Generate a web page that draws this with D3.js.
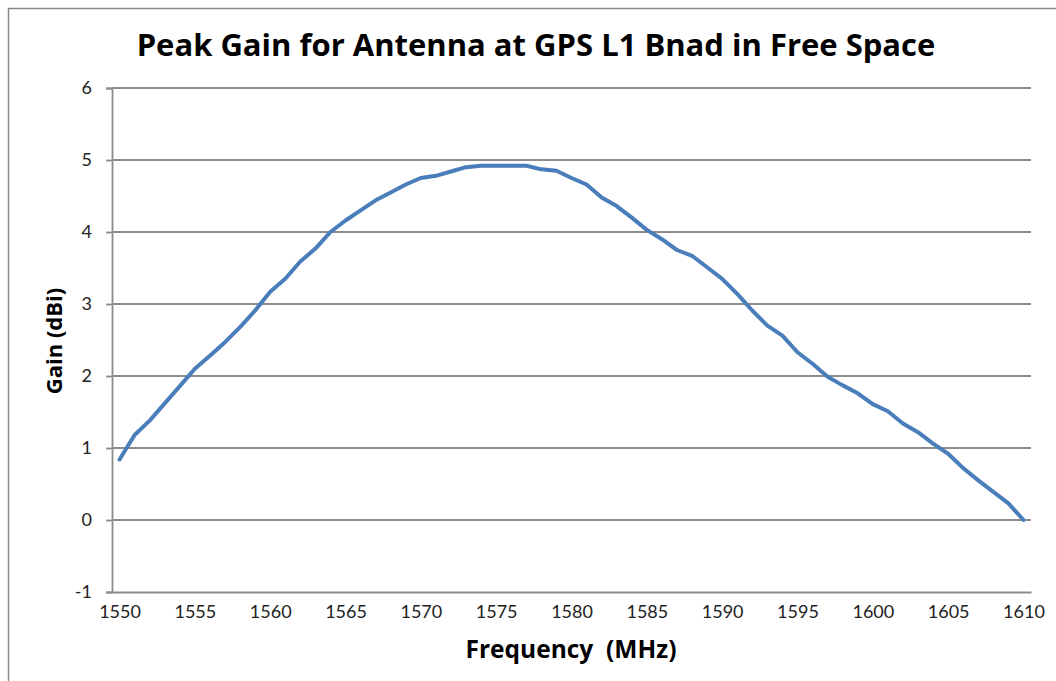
<!DOCTYPE html>
<html>
<head>
<meta charset="utf-8">
<script src="https://cdn.jsdelivr.net/npm/d3@7"></script>
<style>
  body { margin: 0; background: #fff; }
  text { font-family: Lato, "Open Sans", sans-serif; }
  .title { font-family: "Open Sans", Lato, sans-serif; font-weight: bold; }
</style>
</head>
<body>
<script>
  // Frequencies (MHz) and peak gain (dBi)
  const frequencies = [
    1550, 1551, 1552, 1553, 1554, 1555, 1556, 1557, 1558, 1559,
    1560, 1561, 1562, 1563, 1564, 1565, 1566, 1567, 1568, 1569,
    1570, 1571, 1572, 1573, 1574, 1575, 1576, 1577, 1578, 1579,
    1580, 1581, 1582, 1583, 1584, 1585, 1586, 1587, 1588, 1589,
    1590, 1591, 1592, 1593, 1594, 1595, 1596, 1597, 1598, 1599,
    1600, 1601, 1602, 1603, 1604, 1605, 1606, 1607, 1608, 1609,
    1610
  ];
  const gain = [
    0.84, 1.18, 1.38, 1.62, 1.86, 2.10, 2.28, 2.47, 2.68, 2.91,
    3.17, 3.35, 3.59, 3.77, 4.00, 4.16, 4.30, 4.44, 4.55, 4.66,
    4.75, 4.78, 4.84, 4.90, 4.92, 4.92, 4.92, 4.92, 4.87, 4.85,
    4.75, 4.66, 4.48, 4.36, 4.20, 4.03, 3.90, 3.75, 3.67, 3.51,
    3.35, 3.14, 2.91, 2.70, 2.56, 2.33, 2.17, 1.99, 1.87, 1.76,
    1.61, 1.51, 1.34, 1.22, 1.06, 0.92, 0.72, 0.55, 0.39, 0.23,
    0.00
  ];
  const xTickLabels = [1550, 1555, 1560, 1565, 1570, 1575, 1580, 1585, 1590, 1595, 1600, 1605, 1610];
  const yTickLabels = [-1, 0, 1, 2, 3, 4, 5, 6];

  const width = 1056, height = 681;
  const plot = { left: 112, right: 1031, top: 88, bottom: 592 };

  const svg = d3.select("body").append("svg")
    .attr("width", width)
    .attr("height", height);

  // chart area border
  svg.append("rect")
    .attr("x", 8.5).attr("y", 8.5)
    .attr("width", 1060).attr("height", 690)
    .attr("fill", "#fff")
    .attr("stroke", "#888")
    .attr("stroke-width", 1.5);

  // category axis: each frequency sits in the middle of its slot
  const x = d3.scaleLinear()
    .domain([frequencies[0] - 0.5, frequencies[frequencies.length - 1] + 0.5])
    .range([plot.left, plot.right]);
  const y = d3.scaleLinear().domain([-1, 6]).range([plot.bottom, plot.top]);

  // horizontal gridlines
  svg.append("g")
    .selectAll("line")
    .data(yTickLabels.filter(d => d > -1))
    .join("line")
    .attr("x1", plot.left).attr("x2", plot.right)
    .attr("y1", d => y(d)).attr("y2", d => y(d))
    .attr("stroke", "#8c8c8c")
    .attr("stroke-width", 1.8);

  // y axis
  const yAxis = svg.append("g")
    .attr("transform", "translate(" + plot.left + ",0)")
    .call(d3.axisLeft(y).tickValues(yTickLabels).tickSize(6).tickPadding(14)
      .tickFormat(d => (d < 0 ? "-" : "") + Math.abs(d)));
  yAxis.selectAll("line, path").attr("stroke", "#8c8c8c").attr("stroke-width", 1.8);
  yAxis.selectAll("text")
    .attr("fill", "#222")
    .style("font-size", "18px");

  // x axis (labels only, no tick marks)
  const xAxis = svg.append("g")
    .attr("transform", "translate(0," + plot.bottom + ")")
    .call(d3.axisBottom(x).tickValues(xTickLabels).tickSize(0).tickPadding(13).tickFormat(d3.format("d")));
  xAxis.select("path").attr("stroke", "#8c8c8c").attr("stroke-width", 1.8);
  xAxis.selectAll("text")
    .attr("fill", "#222")
    .style("font-size", "18px");

  // data line
  const line = d3.line()
    .x((d, i) => x(frequencies[i]))
    .y(d => y(d));

  svg.append("path")
    .datum(gain)
    .attr("d", line)
    .attr("fill", "none")
    .attr("stroke", "#4a7ebb")
    .attr("stroke-width", 4)
    .attr("stroke-linejoin", "round")
    .attr("stroke-linecap", "round");

  // titles
  svg.append("text")
    .attr("class", "title")
    .attr("x", 536).attr("y", 56)
    .attr("text-anchor", "middle")
    .style("font-size", "31px")
    .text("Peak Gain for Antenna at GPS L1 Bnad in Free Space");

  svg.append("text")
    .attr("class", "title")
    .attr("x", 571).attr("y", 658)
    .attr("text-anchor", "middle")
    .style("font-size", "24.5px")
    .style("white-space", "pre")
    .text("Frequency  (MHz)");

  svg.append("text")
    .attr("class", "title")
    .attr("transform", "translate(62,341) rotate(-90)")
    .attr("text-anchor", "middle")
    .style("font-size", "22px")
    .text("Gain (dBi)");
</script>
</body>
</html>
